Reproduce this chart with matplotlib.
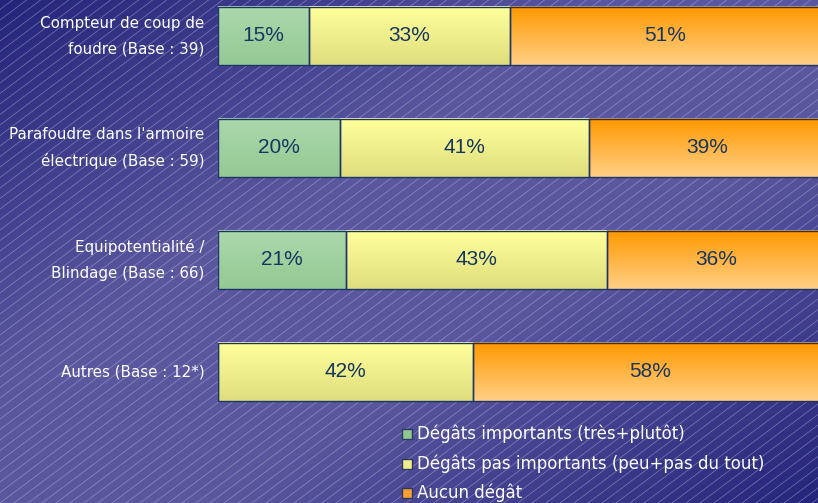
import numpy as np
import matplotlib
matplotlib.use('Agg')
import matplotlib.pyplot as plt
from matplotlib.colors import LinearSegmentedColormap

# data
categories = ['Compteur de coup de\nfoudre (Base : 39)',
              "Parafoudre dans l'armoire\nélectrique (Base : 59)",
              'Equipotentialité /\nBlindage (Base : 66)',
              'Autres (Base : 12*)']
important = [15, 20, 21, 0]
pas_important = [33, 41, 43, 42]
aucun = [51, 39, 36, 58]
series_names = ['Dégâts importants (très+plutôt)',
                'Dégâts pas importants (peu+pas du tout)',
                'Aucun dégât']

# couleurs (haut, bas) pour les dégradés
grads = [('#acd8ac', '#94c994'), ('#ffff9c', '#dede7e'), ('#ff9900', '#ffcf85')]
legend_cols = ['#90c890', '#f0f08a', '#ff9f30']
edge = '#1d3566'

fig = plt.figure(figsize=(8.18, 5.03), dpi=100)

# fond dégradé + hachures
bg = fig.add_axes([0, 0, 1, 1])
bg.set_axis_off()
h, w = 200, 330
yy, xx = np.mgrid[0:h, 0:w]
t = (xx / w + yy / h) / 2
d = np.clip((np.abs(t - 0.5) * 2 - 0.25) / 0.75, 0, 1)
cm_bg = LinearSegmentedColormap.from_list('bg', ['#5a579e', '#24247a'])
bg.imshow(d, cmap=cm_bg, extent=[0, 818, 503, 0], aspect='auto', vmin=0, vmax=1,
          interpolation='bilinear')
for x0 in np.arange(-700, 818, 14):
    bg.plot([x0, x0 + 503 / 0.75], [503, 0], color='#c8c8f0', lw=0.6, alpha=0.4)
bg.set_xlim(0, 818)
bg.set_ylim(503, 0)

ax = fig.add_axes([218 / 818, 0.0, 608 / 818, 1.0])
y = np.arange(len(categories))
ylim = (-0.321 + 503 / 112, -0.321)
ax.patch.set_alpha(0)

series = [important, pas_important, aucun]
left = np.zeros(len(categories))
for vals, (c1, c2) in zip(series, grads):
    vals = np.array(vals, dtype=float)
    bars = ax.barh(y, vals, left=left, height=0.52, facecolor='none',
                   edgecolor=edge, linewidth=1.0, zorder=3)
    cmap = LinearSegmentedColormap.from_list('g', [c1, c2])
    for b, v in zip(bars, vals):
        if v <= 0:
            continue
        x0, y0 = b.get_x(), b.get_y()
        bw, bh = b.get_width(), b.get_height()
        grad = np.linspace(0, 1, 50).reshape(-1, 1)
        ax.imshow(grad, cmap=cmap, extent=[x0, x0 + bw, y0 + bh, y0],
                  aspect='auto', zorder=2, interpolation='bilinear')
        ax.text(x0 + bw / 2, y0 + bh / 2, f'{int(v)}%', ha='center', va='center',
                color='#17365f', fontsize=15, family='Liberation Sans', zorder=4)
    left += vals
ax.set_xlim(0, 100)
ax.set_ylim(*ylim)
ax.set_axis_off()

for yi, lab in zip(y, categories):
    ax.text(-2.2, yi, lab, ha='right', va='center', color='white',
            fontsize=10.9, family='DejaVu Sans', linespacing=1.85)

# légende
for i, (name, c) in enumerate(zip(series_names, legend_cols)):
    yl = 434 + i * 29.5
    bg.add_patch(plt.Rectangle((402, yl - 5), 10, 10, facecolor=c,
                               edgecolor='#2a3a60', lw=1, zorder=5))
    bg.text(417, yl, name, ha='left', va='center', color='white',
            fontsize=12, family='DejaVu Sans', zorder=5)

fig.savefig('out.png', dpi=100)
